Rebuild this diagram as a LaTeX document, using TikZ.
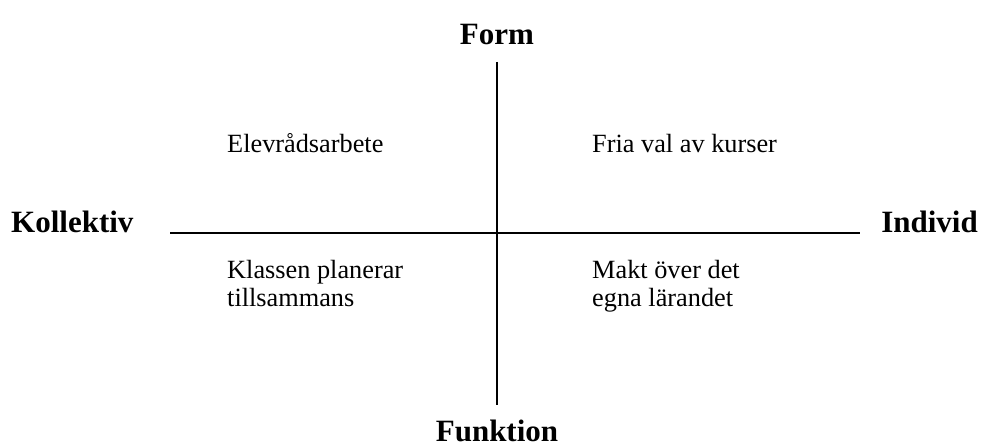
\documentclass[tikz,border=0pt]{standalone}
\usepackage{fontspec}
\setmainfont{Liberation Serif}
\begin{document}
\begin{tikzpicture}[x=1pt,y=-1pt,
  axis/.style={line width=1.5pt,black},
  title/.style={font=\bfseries\fontsize{31}{34}\selectfont,inner sep=0pt},
  quad/.style={font=\fontsize{26.3}{27.5}\selectfont,align=left,anchor=base west,inner sep=0pt}]
\useasboundingbox (0,0) rectangle (981,446);
\coordinate (vt) at (497,62);
\coordinate (vb) at (497,405);
\coordinate (hl) at (170,233);
\coordinate (hr) at (860,233);
\draw[axis] (vt) -- (vb);
\draw[axis] (hl) -- (hr);
\node[title,anchor=base] (form) at (497,45) {Form};
\node[title,anchor=base] (funk) at (497,441) {Funktion};
\node[title,anchor=base west] (koll) at (11,233) {Kollektiv};
\node[title,anchor=base east] (ind) at (978,233) {Individ};
\node[quad] (q1) at (227,153) {Elevrådsarbete};
\node[quad] (q2) at (592,153) {Fria val av kurser};
\node[quad] (q3) at (227,306) {Klassen planerar\\tillsammans};
\node[quad] (q4) at (592,306) {Makt över det\\egna lärandet};
\end{tikzpicture}
\end{document}
